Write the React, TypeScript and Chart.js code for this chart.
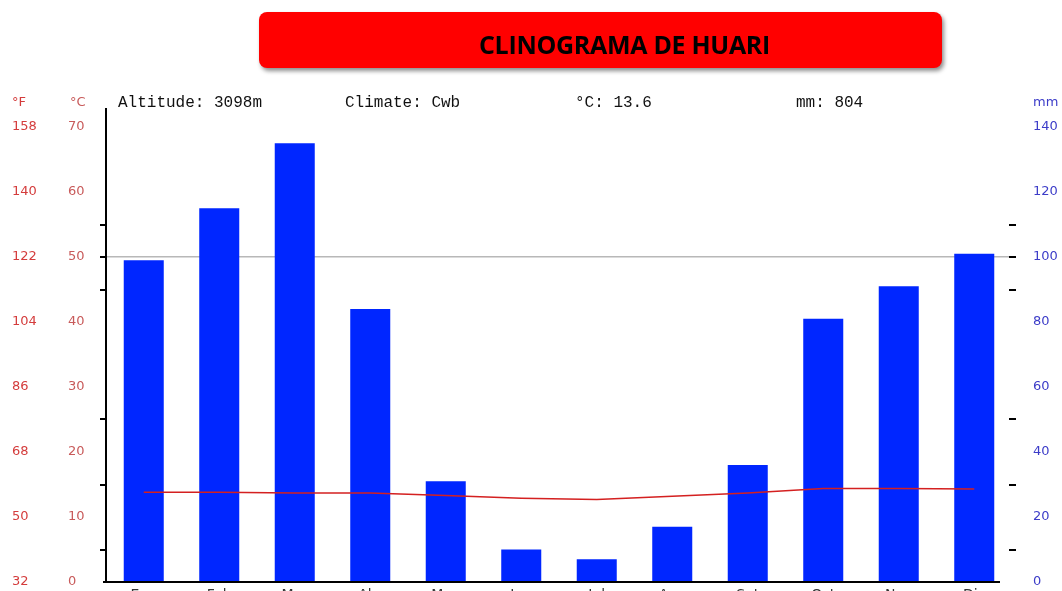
import React, { useEffect, useRef } from "react";
import { Chart, registerables } from "chart.js";

Chart.register(...registerables);

const months = ["Ene", "Feb", "Mar", "Abr", "May", "Jun", "Jul", "Ago", "Set", "Oct", "Nov", "Dic"];
const precipitationMm = [99, 115, 135, 84, 31, 10, 7, 17, 36, 81, 91, 101];
const temperatureC = [13.8, 13.8, 13.7, 13.7, 13.3, 12.9, 12.7, 13.2, 13.7, 14.4, 14.4, 14.3];
const fahrenheitTicks = [32, 50, 68, 86, 104, 122, 140, 158];
const headerTexts = ["Altitude: 3098m", "Climate: Cwb", "°C: 13.6", "mm: 804"];
const titleText = "CLINOGRAMA DE HUARI";

const W = 1062;
const H = 620;

const decorPlugin = {
  id: "decor",
  afterDraw(chart: any) {
    const ctx = chart.ctx as CanvasRenderingContext2D;
    const yC = chart.scales.y;
    const yMm = chart.scales.y2;
    const area = chart.chartArea;
    ctx.save();
    ctx.strokeStyle = "#000";
    ctx.lineWidth = 2;
    ctx.beginPath();
    ctx.moveTo(area.left, 108);
    ctx.lineTo(area.left, area.bottom + 1);
    ctx.moveTo(area.left - 3, area.bottom);
    ctx.lineTo(1000, area.bottom);
    ctx.stroke();
    ctx.beginPath();
    [5, 15, 25, 45, 50, 55].forEach((v) => {
      const y = Math.round(yC.getPixelForValue(v));
      ctx.moveTo(area.left - 6, y);
      ctx.lineTo(area.left, y);
    });
    [10, 30, 50, 90, 100, 110].forEach((v) => {
      const y = Math.round(yMm.getPixelForValue(v));
      ctx.moveTo(area.right - 3, y);
      ctx.lineTo(area.right + 4, y);
    });
    ctx.stroke();
    ctx.textBaseline = "middle";
    ctx.font = "13px 'DejaVu Sans'";
    ctx.fillStyle = "#d43c3c";
    ctx.fillText("°F", 12, 103);
    ctx.fillStyle = "#c85a5a";
    ctx.fillText("°C", 70, 103);
    ctx.fillStyle = "#3c3cc8";
    ctx.fillText("mm", 1033, 103);
    ctx.fillStyle = "#111";
    ctx.font = "16px 'Liberation Mono'";
    const xs = [118, 345, 575, 796];
    headerTexts.forEach((t, i) => ctx.fillText(t, xs[i], 103));
    ctx.restore();
  },
};

export default function App() {
  const ref = useRef<HTMLCanvasElement>(null);
  useEffect(() => {
    if (!ref.current) return;
    const chart = new Chart(ref.current, {
      type: "bar",
      data: {
        labels: months,
        datasets: [
          {
            type: "line",
            data: temperatureC,
            yAxisID: "y",
            borderColor: "#d42020",
            borderWidth: 1.5,
            pointRadius: 0,
            tension: 0,
            order: 0,
          } as any,
          {
            type: "bar",
            data: precipitationMm,
            yAxisID: "y2",
            backgroundColor: "#0026ff",
            barPercentage: 0.53,
            categoryPercentage: 1,
            order: 1,
          },
        ],
      },
      plugins: [decorPlugin],
      options: {
        responsive: false,
        animation: false,
        devicePixelRatio: 1,
        layout: { padding: { top: 127, left: 12, right: 0, bottom: 0 } },
        plugins: { legend: { display: false }, tooltip: { enabled: false }, title: { display: false } },
        scales: {
          x: {
            type: "category",
            offset: true,
            grid: { display: false, drawTicks: false },
            border: { display: false },
            ticks: { color: "#333", font: { family: "DejaVu Sans", size: 14 }, padding: 5, maxRotation: 0, autoSkip: false },
            afterFit: (s: any) => { s.height = 38; },
          },
          y: {
            type: "linear",
            position: "left",
            min: 0,
            max: 70,
            grid: {
              drawTicks: false,
              color: (c: any) => (c.tick && c.tick.value === 50 ? "#b8b8b8" : "rgba(0,0,0,0)"),
              lineWidth: 1.5,
            },
            border: { display: false },
            ticks: { stepSize: 10, color: "#c85a5a", crossAlign: "far", font: { family: "DejaVu Sans", size: 13 } },
            afterFit: (s: any) => { s.width = 38; },
          },
          yF: {
            type: "linear",
            position: "left",
            min: 32,
            max: 158,
            grid: { display: false, drawTicks: false },
            border: { display: false },
            ticks: { stepSize: 18, color: "#d43c3c", crossAlign: "far", font: { family: "DejaVu Sans", size: 13 } },
            afterBuildTicks: (s: any) => {
              s.ticks = fahrenheitTicks.map((v) => ({ value: v }));
            },
            afterFit: (s: any) => { s.width = 56; },
          },
          y2: {
            type: "linear",
            position: "right",
            min: 0,
            max: 140,
            grid: { display: false, drawTicks: false },
            border: { display: false },
            ticks: { stepSize: 20, color: "#3c3cc8", padding: 21, crossAlign: "near", font: { family: "DejaVu Sans", size: 13 } },
            afterFit: (s: any) => { s.width = 50; },
          },
        },
      } as any,
    });
    return () => chart.destroy();
  }, []);

  return (
    <div style={{ position: "fixed", left: 0, top: 0, width: W, height: 591, overflow: "hidden", background: "#fff" }}>
      <canvas ref={ref} width={W} height={H} style={{ position: "absolute", left: 0, top: 0, width: W, height: H }} />
      <div
        style={{
          position: "absolute",
          left: 259,
          top: 12,
          width: 683,
          height: 56,
          background: "#ff0000",
          borderRadius: 8,
          boxShadow: "2px 3px 4px rgba(0,0,0,0.45)",
          display: "flex",
          alignItems: "center",
          justifyContent: "center",
          paddingLeft: 48,
          paddingTop: 8,
          boxSizing: "border-box",
          fontFamily: "'Open Sans', sans-serif",
          fontWeight: 700,
          fontSize: 25,
          letterSpacing: -0.3,
          color: "#000",
        }}
      >
        {titleText}
      </div>
    </div>
  );
}
